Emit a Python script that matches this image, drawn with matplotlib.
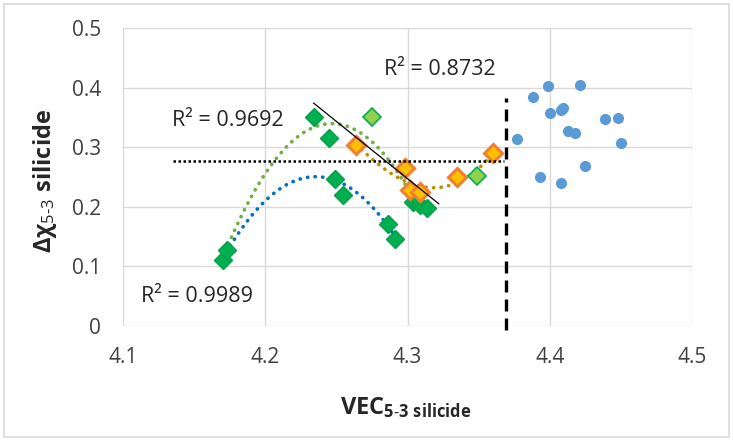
import numpy as np
import matplotlib
matplotlib.use("Agg")
import matplotlib.pyplot as plt
from matplotlib.patches import Rectangle

plt.rcParams['font.family'] = ['Open Sans', 'DejaVu Sans']
plt.rcParams['mathtext.fontset'] = 'custom'
plt.rcParams['mathtext.rm'] = 'Open Sans'
plt.rcParams['mathtext.bf'] = 'Open Sans:bold'
plt.rcParams['mathtext.it'] = 'Open Sans:italic'

# ---- data ----
green_x = [4.170, 4.173, 4.234, 4.245, 4.249, 4.255, 4.286, 4.291, 4.304, 4.309, 4.314]
green_y = [0.111, 0.128, 0.351, 0.315, 0.247, 0.220, 0.171, 0.146, 0.208, 0.203, 0.198]

lgreen_x = [4.275, 4.349]
lgreen_y = [0.351, 0.252]

orange_x = [4.264, 4.298, 4.302, 4.309, 4.335, 4.360]
orange_y = [0.303, 0.265, 0.228, 0.225, 0.250, 0.290]

blue_x = [4.399, 4.421, 4.388, 4.400, 4.408, 4.409, 4.439, 4.448, 4.413, 4.418,
          4.377, 4.450, 4.425, 4.393, 4.408]
blue_y = [0.403, 0.404, 0.384, 0.357, 0.362, 0.366, 0.347, 0.349, 0.327, 0.324,
          0.314, 0.307, 0.268, 0.250, 0.240]

# trendlines
gcurve_x = [4.172, 4.208, 4.247, 4.269, 4.286, 4.300]
gcurve_y = [0.125, 0.282, 0.341, 0.322, 0.275, 0.235]
bcurve_x = [4.170, 4.189, 4.203, 4.236, 4.271, 4.290]
bcurve_y = [0.111, 0.184, 0.216, 0.250, 0.209, 0.156]
ocurve_x = [4.264, 4.281, 4.288, 4.296, 4.313, 4.331, 4.344, 4.353, 4.360]
ocurve_y = [0.304, 0.273, 0.257, 0.242, 0.231, 0.240, 0.253, 0.270, 0.290]
trend_x = [4.234, 4.322]
trend_y = [0.374, 0.205]

hline_y = 0.277
hline_x = [4.135, 4.368]
vline_x = 4.369
vline_y = [-0.006, 0.382]

r2_labels = ["R² = 0.8732", "R² = 0.9692", "R² = 0.9989"]
r2_pos = [(4.323, 0.430), (4.174, 0.344), (4.152, 0.050)]

xticks = [4.1, 4.2, 4.3, 4.4, 4.5]
yticks = [0, 0.1, 0.2, 0.3, 0.4, 0.5]

# ---- figure ----
fig = plt.figure(figsize=(7.33, 4.43), dpi=100)
fig.patches.append(Rectangle((4/733, 6/443), 725/733, 433/443, transform=fig.transFigure,
                             fill=False, edgecolor='#D9D9D9', lw=1.2))
ax = fig.add_axes([123/733, 1 - 326/443, (692 - 123)/733, (326 - 28)/443])
ax.set_xlim(4.1, 4.5)
ax.set_ylim(0, 0.5)
ax.set_xticks(xticks)
ax.set_xticklabels([f"{t:g}" for t in xticks])
ax.set_yticks(yticks)
ax.set_yticklabels([f"{t:g}" for t in yticks])
for s in ax.spines.values():
    s.set_visible(False)
ax.grid(True, color='#D9D9D9', lw=1.0)
ax.set_axisbelow(True)
ax.tick_params(length=0, labelsize=15, colors='#404040')
ax.tick_params(axis='y', pad=16)
ax.tick_params(axis='x', pad=15)

dot_style = dict(lw=2.6, linestyle=(0, (0.1, 2.0)), dash_capstyle='round')

def draw_curve(xs, ys, deg, color):
    c = np.polyfit(xs, ys, deg)
    xx = np.linspace(min(xs), max(xs), 200)
    ax.plot(xx, np.polyval(c, xx), color=color, zorder=3, **dot_style)

# markers
ax.plot(blue_x, blue_y, 'o', ms=7, color='#5B9BD5', mec='#5B9BD5', zorder=4)
ax.plot(green_x, green_y, 'D', ms=9.5, color='#00B050', mec='#00A046', mew=1.0, zorder=4)
ax.plot(lgreen_x, lgreen_y, 'D', ms=9.5, color='#92D050', mec='#00B050', mew=1.2, zorder=4)
ax.plot(orange_x, orange_y, 'D', ms=9.5, color='#FFC000', mec='#F08030', mew=2.2, zorder=4)

# trend curves
draw_curve(gcurve_x, gcurve_y, 2, '#70AD47')
draw_curve(bcurve_x, bcurve_y, 2, '#0070C0')
draw_curve(ocurve_x, ocurve_y, 3, '#BF9000')
ax.plot(trend_x, trend_y, color='black', lw=0.9, zorder=5)

# reference lines
ax.plot(hline_x, [hline_y, hline_y], color='black', lw=1.8, linestyle=(0, (1, 1)), zorder=5)
ax.plot([vline_x, vline_x], vline_y, color='black', lw=2.4, linestyle=(0, (3.6, 2.1)),
        zorder=5, clip_on=False)

for lab, (x, y) in zip(r2_labels, r2_pos):
    ax.text(x, y, lab, ha='center', va='center', fontsize=15.5, color='#262626', zorder=6)

fig.text(406/733, 1 - 408/443, r'$\mathbf{VEC}_{\mathbf{5\text{-}3\ silicide}}$',
         ha='center', va='center', fontsize=17, color='#262626')
fig.text(45/733, 1 - 181/443, r'$\mathbf{Δχ}_{\mathrm{5\text{-}3}}\mathbf{\ silicide}$',
         ha='center', va='center', fontsize=17, color='#262626', rotation=90)

fig.savefig('out.png', dpi=100)
